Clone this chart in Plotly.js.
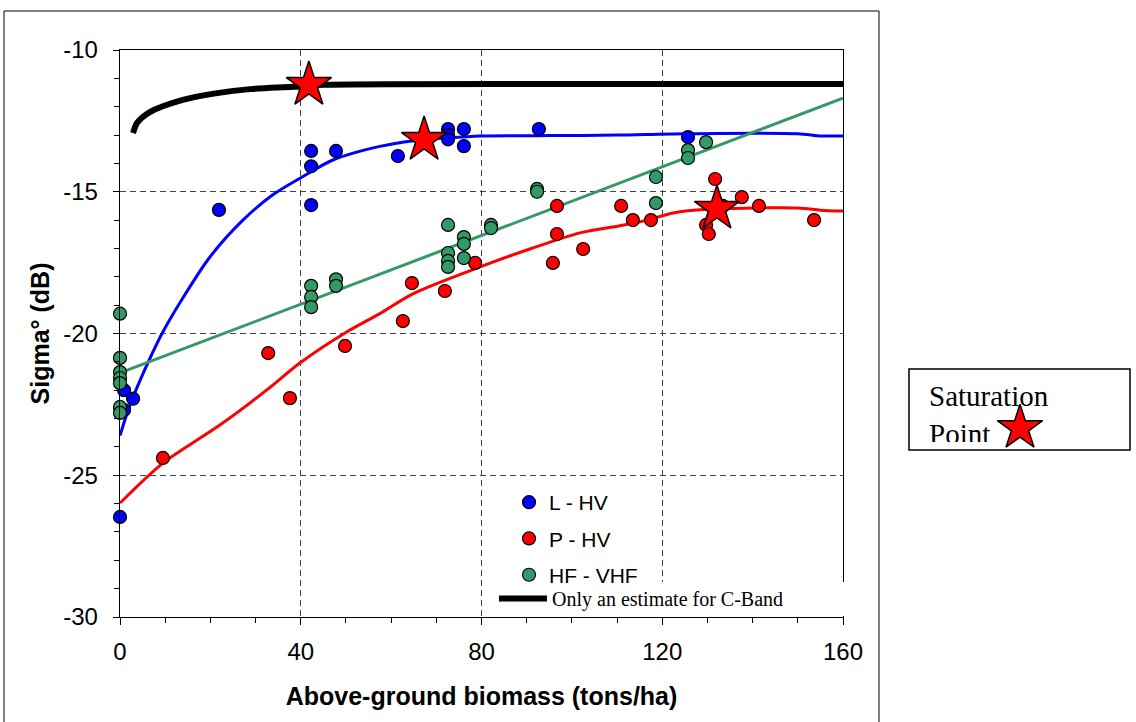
<!DOCTYPE html>
<html>
<head>
<meta charset="utf-8">
<script src="https://cdn.plot.ly/plotly-3.0.1.min.js"></script>
<style>html,body{margin:0;padding:0;background:#fff;}#chart{width:1136px;height:722px;}</style>
</head>
<body>
<div id="chart"></div>
<script>
// ---- Data ----
const lhvX = [0, 0.9, 2.9, 0.9, 21.9, 42.3, 42.3, 42.3, 47.8, 61.5, 72.6, 72.6, 72.6, 76.1, 76.1, 92.7, 125.7];
const lhvY = [-26.47, -22.0, -22.3, -22.7, -15.64, -13.56, -14.1, -15.47, -13.56, -13.74, -12.79, -13.0, -13.15, -12.79, -13.39, -12.79, -13.07];

const phvX = [9.5, 32.8, 37.6, 49.8, 62.6, 64.6, 71.9, 78.6, 95.8, 96.7, 96.7, 102.5, 110.9, 113.5, 117.5, 129.7, 130.3, 131.7, 133.4, 137.6, 141.4, 153.6];
const phvY = [-24.39, -20.69, -22.28, -20.44, -19.56, -18.22, -18.5, -17.51, -17.51, -16.49, -15.5, -17.02, -15.5, -16.0, -16.0, -16.17, -16.49, -14.55, -15.5, -15.19, -15.5, -16.0];

const hfX = [0, 0, 0, 0, 0, 0, 0, 42.3, 42.3, 42.3, 47.8, 47.8, 72.6, 72.6, 72.6, 72.6, 76.1, 76.1, 76.1, 82.1, 82.1, 92.3, 92.3, 118.6, 118.6, 125.7, 125.7, 129.7];
const hfY = [-19.3, -20.86, -21.36, -21.57, -21.75, -22.59, -22.8, -18.32, -18.71, -19.07, -18.09, -18.32, -16.17, -17.16, -17.44, -17.65, -16.6, -16.84, -17.34, -16.17, -16.28, -14.9, -15.0, -14.48, -15.4, -13.53, -13.81, -13.25];

const lFitX = [0, 1.5, 3, 5, 7, 9.3, 13.7, 19.9, 27.2, 33.9, 40.3, 47.1, 57.5, 65, 72.4, 79.7, 95, 110, 125, 150, 155, 160];
const lFitY = [-23.6, -22.85, -22.2, -21.45, -20.75, -20.0, -18.8, -17.3, -16.0, -15.1, -14.48, -13.88, -13.4, -13.2, -13.1, -13.03, -13.02, -13.0, -12.95, -12.95, -13.03, -13.03];

const pFitX = [0, 9.5, 22.1, 32.5, 39.8, 49.8, 57.5, 64.8, 79.7, 90.7, 101.8, 110.6, 116.6, 122.4, 129.9, 150, 155, 160];
const pFitY = [-25.98, -24.57, -23.23, -21.99, -21.04, -19.98, -19.3, -18.6, -17.65, -17.02, -16.45, -16.2, -16.0, -15.75, -15.62, -15.57, -15.65, -15.68];

const hfFitX = [0, 160];
const hfFitY = [-21.39, -11.7];

const cBandX = [2.9, 3.8, 6.6, 13.9, 21.5, 28.8, 38.3, 45, 100, 161.5];
const cBandY = [-12.93, -12.57, -12.19, -11.76, -11.52, -11.38, -11.3, -11.23, -11.2, -11.2];

const satX = [41.8, 67.3, 132.1];
const satY = [-11.23, -13.17, -15.6];

// key star inside the "Saturation Point" box (drawn on a small hidden key axis)
const keyStarX = [0.5];
const keyStarY = [0.5];

const seriesNames = ['L - HV', 'P - HV', 'HF - VHF', 'Only an estimate for C-Band'];
const xTickVals = [0, 40, 80, 120, 160];
const xTickText = ['0', '40', '80', '120', '160'];
const yTickVals = [-30, -25, -20, -15, -10];
const yTickText = ['-30', '-25', '-20', '-15', '-10'];

// ---- Styling ----
const BLUE = '#0000FF', RED = '#FF0000', GREEN = '#339966';
const SANS = 'Liberation Sans, Arial, sans-serif';
const SERIF = 'Liberation Serif, Times New Roman, serif';
const mk = c => ({size: 13, color: c, line: {color: '#000', width: 1.2}});
const starMk = {symbol: 'star', size: 34, color: RED, line: {color: '#000', width: 1.5}};

const traces = [
  {x: lFitX, y: lFitY, mode: 'lines', line: {color: BLUE, width: 3, shape: 'spline', smoothing: 0.8}, showlegend: false},
  {x: pFitX, y: pFitY, mode: 'lines', line: {color: RED, width: 3, shape: 'spline', smoothing: 0.8}, showlegend: false},
  {x: hfFitX, y: hfFitY, mode: 'lines', line: {color: GREEN, width: 3}, showlegend: false},
  {x: cBandX, y: cBandY, mode: 'lines', name: seriesNames[3], line: {color: '#000', width: 6, shape: 'spline', smoothing: 0.8}, legend: 'legend2'},
  {x: lhvX, y: lhvY, mode: 'markers', name: seriesNames[0], marker: mk(BLUE), cliponaxis: false, legendgroup: 'a'},
  {x: phvX, y: phvY, mode: 'markers', name: seriesNames[1], marker: mk(RED), cliponaxis: false, legendgroup: 'b'},
  {x: hfX, y: hfY, mode: 'markers', name: seriesNames[2], marker: mk(GREEN), cliponaxis: false, legendgroup: 'c'},
  {x: satX, y: satY, mode: 'markers', showlegend: false, cliponaxis: false, marker: starMk},
  {x: keyStarX, y: keyStarY, xaxis: 'x2', yaxis: 'y2', mode: 'markers', showlegend: false, cliponaxis: false, marker: starMk}
];

const W = 1136, H = 722, L = 120, R = 843, T = 50, B = 617;
const PR = W; // paper right edge
const px = v => (v - L) / (PR - L);
const py = v => (B - v) / (B - T);

const layout = {
  width: W, height: H,
  margin: {l: L, r: W - PR, t: T, b: H - B, pad: 0},
  paper_bgcolor: '#fff', plot_bgcolor: 'rgba(0,0,0,0)',
  font: {family: SANS, color: '#000', size: 20},
  xaxis: {
    domain: [0, px(R)],
    range: [0, 160], tickvals: xTickVals, ticktext: xTickText, ticks: 'outside', ticklen: 7, tickwidth: 1, tickcolor: '#000',
    ticklabelstandoff: 6,
    minor: {dtick: 10, tick0: 0, ticks: 'outside', ticklen: 5, tickcolor: '#000', showgrid: false},
    showline: true, linecolor: '#000', linewidth: 1.3, mirror: true,
    showgrid: true, gridcolor: '#444', gridwidth: 1, griddash: '6px,4px',
    zeroline: false, tickfont: {size: 24, family: SANS},
    title: {text: 'Above-ground biomass (tons/ha)', font: {size: 25, family: SANS, weight: 'bold'}, standoff: 23}
  },
  yaxis: {
    range: [-30, -10], tickvals: yTickVals, ticktext: yTickText, ticks: 'outside', ticklen: 6, tickwidth: 1, tickcolor: '#000',
    ticklabelstandoff: 10,
    minor: {dtick: 1, tick0: 0, ticks: 'outside', ticklen: 5, tickcolor: '#000', showgrid: false},
    showline: true, linecolor: '#000', linewidth: 1.3, mirror: true,
    showgrid: true, gridcolor: '#444', gridwidth: 1, griddash: '6px,4px',
    zeroline: false, tickfont: {size: 24, family: SANS},
    title: {text: 'Sigma° (dB)', font: {size: 25, family: SANS, weight: 'bold'}, standoff: 6}
  },
  xaxis2: {domain: [px(1000), px(1040)], range: [0, 1], visible: false, anchor: 'y2'},
  yaxis2: {domain: [py(448), py(408)], range: [0, 1], visible: false, anchor: 'x2'},
  showlegend: true,
  legend: {
    x: px(509), y: py(482), xanchor: 'left', yanchor: 'top',
    bgcolor: 'rgba(0,0,0,0)', borderwidth: 0,
    font: {family: SANS, size: 21}, tracegroupgap: 6, itemwidth: 30
  },
  legend2: {
    x: px(494), y: py(579), xanchor: 'left', yanchor: 'top',
    bgcolor: 'rgba(0,0,0,0)', borderwidth: 0,
    font: {family: SERIF, size: 20}, itemwidth: 48
  },
  shapes: [
    // outer frame
    {type: 'rect', xref: 'paper', yref: 'paper', x0: px(4), x1: px(879), y0: py(730), y1: py(11),
     line: {color: '#000', width: 1}, fillcolor: 'rgba(0,0,0,0)', layer: 'below'},
    // white backing of the C-band key
    {type: 'rect', xref: 'paper', yref: 'paper', x0: px(497), x1: px(845), y0: py(616), y1: py(582),
     line: {width: 0}, fillcolor: '#fff', layer: 'above'},
    // saturation box
    {type: 'rect', xref: 'paper', yref: 'paper', x0: px(909), x1: px(1130), y0: py(450), y1: py(369),
     line: {color: '#000', width: 1.5}, fillcolor: 'rgba(0,0,0,0)', layer: 'below'}
  ],
  annotations: [
    {xref: 'paper', yref: 'paper', x: px(927), y: py(378), xanchor: 'left', yanchor: 'top',
     text: 'Saturation<br>Point', align: 'left', valign: 'top', showarrow: false, width: 140, height: 62,
     font: {family: SERIF, size: 29, color: '#000'}}
  ]
};

Plotly.newPlot('chart', traces, layout, {displayModeBar: false, staticPlot: true});
</script>
</body>
</html>
